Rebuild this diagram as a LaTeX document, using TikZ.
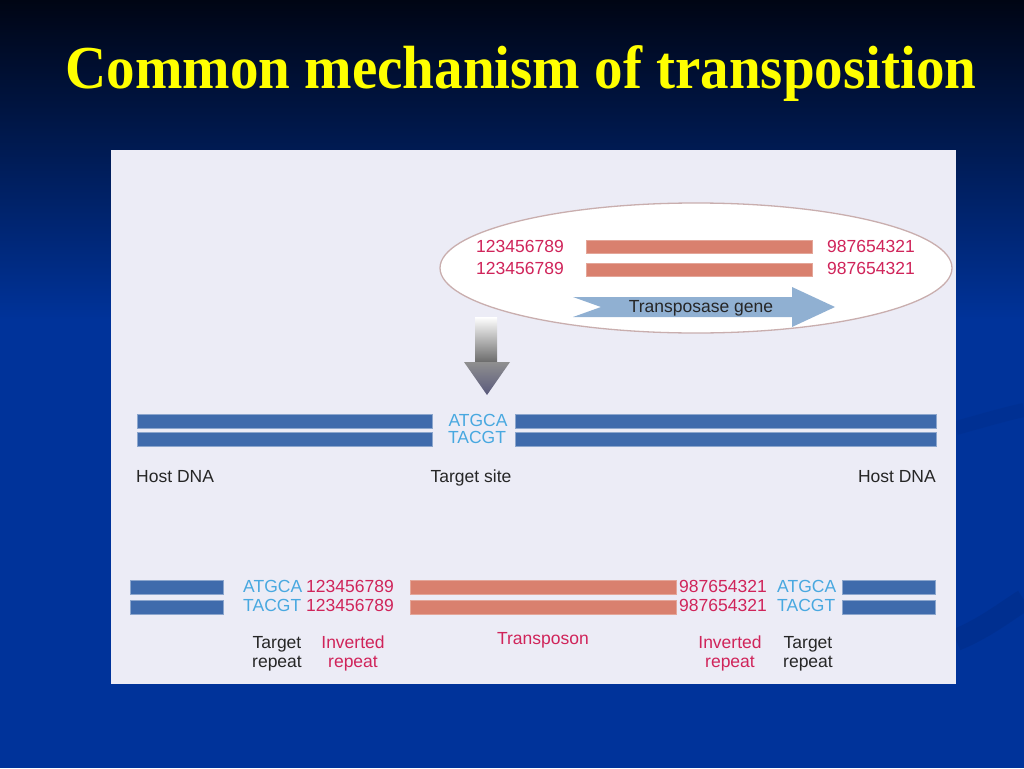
\documentclass[tikz,border=0pt]{standalone}
\usepackage{fontspec}
\setmainfont{Liberation Serif}
\newfontfamily\arialf{Liberation Sans}
\definecolor{bgtop}{HTML}{000514}
\definecolor{bgmid}{HTML}{06286C}
\definecolor{bgbot}{HTML}{00339A}
\definecolor{panel}{HTML}{ECECF6}
\definecolor{barblue}{HTML}{3F6BAC}
\definecolor{barsalmon}{HTML}{D9806E}
\definecolor{crimson}{HTML}{D0245A}
\definecolor{lblue}{HTML}{48A8E0}
\definecolor{ellborder}{HTML}{C9AEAE}
\definecolor{gene}{HTML}{90B0D2}
\definecolor{titleyellow}{HTML}{FFFF00}
\begin{document}
\begin{tikzpicture}[x=1pt,y=-1pt,
  lab/.style={font=\arialf\fontsize{17.5}{17.5}\selectfont, inner sep=0pt, anchor=base},
  bluebar/.style={fill=barblue, draw=barblue!60!white, line width=0.6pt},
  salmonbar/.style={fill=barsalmon, draw=barsalmon!70!white, line width=0.6pt},
  titlefont/.style={font=\fontsize{61}{61}\selectfont\bfseries, inner sep=0pt, anchor=base, xscale=0.935}]
\useasboundingbox (0,0) rectangle (1024,768);
% background
\fill[bgbot] (0,0) rectangle (1024,768);
\shade[top color=bgtop, middle color=bgmid, bottom color=bgbot] (0,0) rectangle (1024,320);
\draw[line width=14pt, color=black!30!bgbot, opacity=0.15] (956,428) .. controls (985,420) and (1005,414) .. (1024,410);
\draw[line width=22pt, color=black!35!bgbot, opacity=0.18] (956,640) .. controls (985,628) and (1005,612) .. (1024,600);
% title
\node[titlefont, text=titleyellow] (title) at (521,88) {Common mechanism of transposition};
% panel
\fill[panel] (111,150) rectangle (956,684);
% ellipse with transposon
\draw[draw=ellborder, fill=white, line width=1.3pt] (696,268) ellipse [x radius=256, y radius=65];
\fill[salmonbar] (586,240) rectangle (812,253);
\fill[salmonbar] (586,263) rectangle (812,276);
\node[lab, text=crimson, anchor=base west] (e1) at (476,252) {123456789};
\node[lab, text=crimson, anchor=base west] (e2) at (476,274) {123456789};
\node[lab, text=crimson, anchor=base west] (e3) at (827,252) {987654321};
\node[lab, text=crimson, anchor=base west] (e4) at (827,274) {987654321};
\fill[gene] (573,297) -- (792,297) -- (792,287) -- (835,307) -- (792,327) -- (792,317) -- (573,317) -- (601,307) -- cycle;
\node[lab, text=black!85] (gene) at (701,312.5) {Transposase gene};
% grey insertion arrow
\shade[top color=white, bottom color=black!45!gray!80] (475,317) rectangle (497,362);
\shade[top color=black!25!gray!70, bottom color=black!55!blue!30!gray] (464,362) -- (510,362) -- (487,395) -- cycle;
% host DNA
\fill[bluebar] (137,414) rectangle (432,428);
\fill[bluebar] (137,432) rectangle (432,446);
\fill[bluebar] (515,414) rectangle (936,428);
\fill[bluebar] (515,432) rectangle (936,446);
\node[lab, text=lblue] (t1) at (478,426) {ATGCA};
\node[lab, text=lblue] (t2) at (477,443) {TACGT};
\node[lab, text=black!85, anchor=base west] (h1) at (136,482) {Host DNA};
\node[lab, text=black!85] (ts) at (471,482) {Target site};
\node[lab, text=black!85, anchor=base east] (h2) at (936,482) {Host DNA};
% inserted transposon
\fill[bluebar] (130,580) rectangle (223,594);
\fill[bluebar] (130,600) rectangle (223,614);
\fill[salmonbar] (410,580) rectangle (676,594);
\fill[salmonbar] (410,600) rectangle (676,614);
\fill[bluebar] (842,580) rectangle (935,594);
\fill[bluebar] (842,600) rectangle (935,614);
\node[lab, text=lblue, anchor=base west] (b1) at (243,592) {ATGCA};
\node[lab, text=crimson, anchor=base west] (b2) at (306,592) {123456789};
\node[lab, text=lblue, anchor=base west] (b3) at (243,611) {TACGT};
\node[lab, text=crimson, anchor=base west] (b4) at (306,611) {123456789};
\node[lab, text=crimson, anchor=base west] (b5) at (679,592) {987654321};
\node[lab, text=lblue, anchor=base west] (b6) at (777,592) {ATGCA};
\node[lab, text=crimson, anchor=base west] (b7) at (679,611) {987654321};
\node[lab, text=lblue, anchor=base west] (b8) at (777,611) {TACGT};
\node[lab, text=black!85] (l1a) at (277,648) {Target};
\node[lab, text=black!85] (l1b) at (277,667) {repeat};
\node[lab, text=crimson] (l2a) at (353,648) {Inverted};
\node[lab, text=crimson] (l2b) at (353,667) {repeat};
\node[lab, text=crimson] (l3) at (543,644) {Transposon};
\node[lab, text=crimson] (l4a) at (730,648) {Inverted};
\node[lab, text=crimson] (l4b) at (730,667) {repeat};
\node[lab, text=black!85] (l5a) at (808,648) {Target};
\node[lab, text=black!85] (l5b) at (808,667) {repeat};
\end{tikzpicture}
\end{document}
